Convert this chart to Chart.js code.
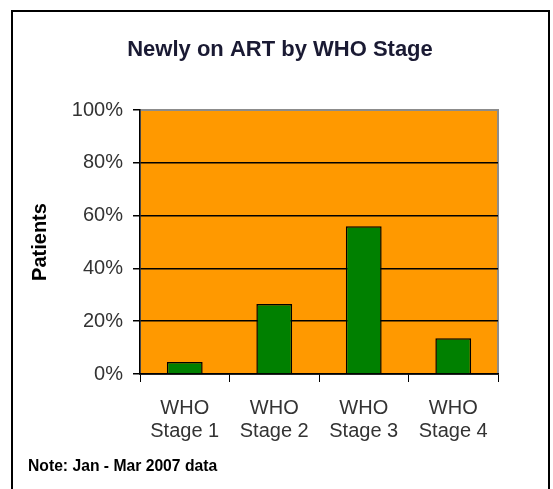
<!DOCTYPE html>
<html>
<head>
<meta charset="utf-8">
<script src="https://cdn.jsdelivr.net/npm/chart.js@4"></script>
<style>
  html, body { margin: 0; padding: 0; background: #fff; }
  #wrap { position: relative; width: 553px; height: 489px; overflow: hidden; }
  #frame { position: absolute; left: 11px; top: 10px; width: 535px; height: 500px; border: 2px solid #000; }
  canvas { position: absolute; left: 0; top: 0; }
</style>
</head>
<body>
<div id="wrap">
  <div id="frame"></div>
  <canvas id="chart" width="553" height="489"></canvas>
</div>
<script>
const ctx = document.getElementById("chart");

// data
const stages = [["WHO", "Stage 1"], ["WHO", "Stage 2"], ["WHO", "Stage 3"], ["WHO", "Stage 4"]]
const patientsPct = [4.5, 26.5, 56, 13.5]
const yTicks = [0, 20, 40, 60, 80, 100]
const chartTitle = "Newly on ART by WHO Stage"
const yTitle = "Patients"
const note = "Note: Jan - Mar 2007 data"

// orange plot area with grey border, title centred on the frame, note at the bottom
const plotBack = {
    id: "plotBack",
    beforeDraw(chart) {
        const a = chart.chartArea
        const c = chart.ctx
        c.save()
        c.fillStyle = "#ff9900"
        c.fillRect(a.left, a.top, a.right - a.left, a.bottom - a.top)
        c.strokeStyle = "#8c8c8c"
        c.lineWidth = 2
        c.strokeRect(a.left, a.top, a.right - a.left, a.bottom - a.top)
        c.restore()
    },
    afterDraw(chart) {
        const c = chart.ctx
        c.save()
        c.fillStyle = "#1a1a33"
        c.font = "bold 22px Arial"
        c.textAlign = "center"
        c.textBaseline = "middle"
        c.fillText(chartTitle, 280, 50)
        c.fillStyle = "#000"
        c.font = "bold 15.7px Arial"
        c.textAlign = "left"
        c.fillText(note, 28, 467)
        c.restore()
    }
}

const myChart = new Chart(ctx, {
    type: "bar",
    data: {
        labels: stages,
        datasets: [{
            label: yTitle,
            data: patientsPct,
            backgroundColor: "#008000",
            borderColor: "#000",
            borderWidth: 1.5,
            barPercentage: 0.4,
            categoryPercentage: 1
        }]
    },
    options: {
        responsive: false,
        animation: false,
        layout: { padding: { left: 0, right: 55, top: 110, bottom: 0 } },
        plugins: {
            legend: { display: false },
            tooltip: { enabled: false },
            title: { display: false }
        },
        scales: {
            x: {
                grid: { display: true, drawOnChartArea: false, drawTicks: true, tickLength: 8, color: "#000", offset: true },
                border: { color: "#000", width: 1.5 },
                ticks: {
                    color: "#333",
                    font: { family: "Arial", size: 20, lineHeight: 1.15 },
                    padding: 15,
                    maxRotation: 0,
                    autoSkip: false
                },
                afterFit(scale) { scale.height = 115 }
            },
            y: {
                min: 0,
                max: 100,
                afterBuildTicks(scale) { scale.ticks = yTicks.map(v => ({ value: v })) },
                grid: {
                    color: c => c.tick && c.tick.value === 100 ? "#8c8c8c" : "#000",
                    lineWidth: 1.5,
                    tickLength: 7,
                    tickColor: "#000"
                },
                border: { color: "#000", width: 1.5 },
                ticks: {
                    color: "#333",
                    font: { family: "Arial", size: 20 },
                    padding: 10,
                    callback: v => v + "%"
                },
                title: {
                    display: true,
                    text: yTitle,
                    color: "#000",
                    font: { family: "Arial", size: 20, weight: "bold" },
                    padding: { top: 28, bottom: 0 }
                },
                afterFit(scale) { scale.width = 140 }
            }
        }
    },
    plugins: [plotBack]
});
</script>
</body>
</html>
